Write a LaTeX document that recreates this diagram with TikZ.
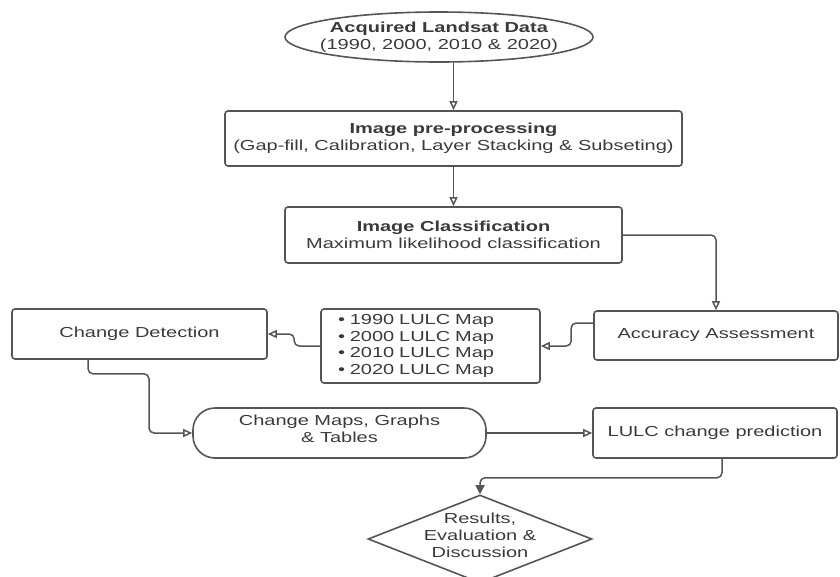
\documentclass[tikz,border=0pt]{standalone}
\usepackage{fontspec}
\setmainfont{Liberation Sans}[FakeStretch=1.38]
\usetikzlibrary{arrows.meta,shapes.geometric}
\definecolor{linegray}{HTML}{555555}
\definecolor{textgray}{HTML}{3A3A3A}
\begin{document}
\begin{tikzpicture}[x=1pt, y=-1pt, font=\fontsize{14.5}{17}\selectfont, text=textgray,
    box/.style={draw=linegray, line width=1.6pt, rounded corners=3pt, inner sep=0pt, align=center},
    flow/.style={draw=linegray, line width=1.5pt, rounded corners=5pt, -{Triangle[open, length=9pt, width=8pt]}},
    endflow/.style={draw=linegray, line width=1.5pt, rounded corners=5pt, -{Triangle[length=9pt, width=9pt]}}]
        \useasboundingbox (0,0) rectangle (840,576);

        % Top chain
        \node[box, ellipse, inner xsep=-40pt, minimum width=308pt, minimum height=50pt] (data) at (439, 37) {\textbf{Acquired Landsat Data}\\(1990, 2000, 2010 \& 2020)};
        \node[box, minimum width=457pt, minimum height=55pt] (prep) at (453.5, 138.5) {\textbf{Image pre-processing}\\(Gap-fill, Calibration, Layer Stacking \& Subseting)};
        \node[box, minimum width=337pt, minimum height=56pt] (classif) at (453.5, 235) {\textbf{Image Classification}\\Maximum likelihood classification};

        % Middle row
        \node[box, minimum width=244pt, minimum height=49pt] (accuracy) at (716, 335.5) {Accuracy Assessment};
        \node[box, minimum width=219pt, minimum height=74pt, align=left, text width=185pt, font=\fontsize{14.5}{16.4}\selectfont] (maps) at (430.5, 346) {• 1990 LULC Map\\• 2000 LULC Map\\• 2010 LULC Map\\• 2020 LULC Map};
        \node[box, minimum width=255pt, minimum height=50pt] (detect) at (139.5, 334) {Change Detection};

        % Bottom row
        \node[box, rounded corners=22pt, minimum width=293pt, minimum height=50pt] (changemaps) at (339.5, 433) {Change Maps, Graphs\\\& Tables\\[-8pt]};
        \node[box, minimum width=244pt, minimum height=50pt] (predict) at (715, 433) {LULC change prediction};
        \node[box, diamond, rounded corners=0pt, aspect=2.55, inner sep=-3pt, minimum width=224pt, minimum height=88pt] (result) at (480, 539) {Results,\\Evaluation \&\\Discussion\\[-10pt]};

        % Connectors
        \draw[flow] (prep.north |- data.south) -- (prep.north);
        \draw[flow] (prep.south) -- (classif.north);
        \draw[flow] (classif.east) -| (accuracy.north);
        \draw[flow] ([yshift=12.5pt]accuracy.west) -- ++(-22,0) |- (maps.east);
        \draw[flow] (maps.west) -- ++(-26,0) |- (detect.east);
        \draw[flow] ([xshift=-51.5pt]detect.south) |- ++(61,14) |- (changemaps.west);
        \draw[flow] (changemaps.east) -- (predict.west);
        \draw[endflow] ([xshift=7pt]predict.south) -- ++(0,19) -| (result.north);
\end{tikzpicture}
\end{document}
